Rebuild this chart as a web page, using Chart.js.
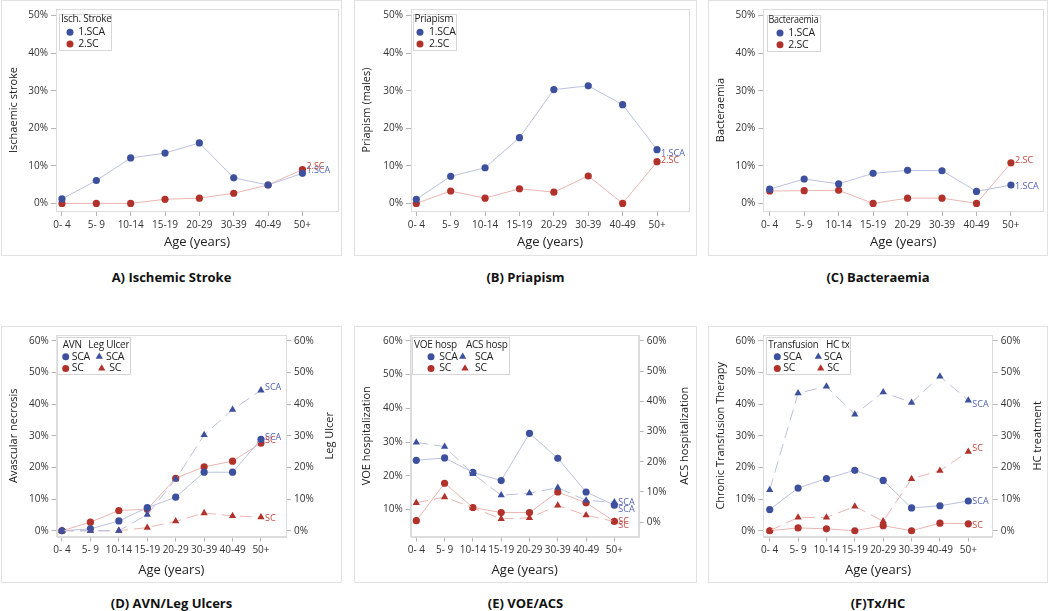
<!DOCTYPE html>
<html><head><meta charset="utf-8">
<script src="https://cdn.jsdelivr.net/npm/chart.js@4/dist/chart.umd.min.js"></script>
<style>
body{margin:0;width:1050px;height:611px;background:#fff;position:relative;overflow:hidden;font-family:'Open Sans',sans-serif}
.box{position:absolute;border:1px solid #e2e2e2;box-sizing:border-box}
canvas{position:absolute}
.ttl{position:absolute;font-weight:bold;font-size:13px;line-height:16px;transform:translateX(-50%);white-space:nowrap;color:#111}
</style></head><body>
<script>
// ---------- data ----------
const ageGroups = ['0- 4','5- 9','10-14','15-19','20-29','30-39','40-49','50+'];
const yTicks50 = [0,10,20,30,40,50];
const yTicks60 = [0,10,20,30,40,50,60];
const yTicksVOE = [10,20,30,40,50,60];

const strokeSCA = [1.2,6.1,12.1,13.4,16.1,6.8,4.9,8.0];
const strokeSC  = [0,0,0,1.1,1.4,2.7,4.9,9.0];
const priapismSCA = [1.1,7.2,9.5,17.5,30.3,31.3,26.3,14.3];
const priapismSC  = [0,3.3,1.4,3.9,3.0,7.3,0,11.1];
const bactSCA = [3.8,6.5,5.2,8.0,8.8,8.7,3.2,4.9];
const bactSC  = [3.3,3.4,3.5,0,1.4,1.4,0,10.8];
const avnSCA = [0,0.6,3.1,7.3,10.6,18.5,18.5,28.9];
const avnSC  = [0,2.7,6.4,6.8,16.6,20.2,22.0,27.7];
const ulcerSCA = [0,0,0,5.1,16.3,30.3,38.3,44.4];
const ulcerSC  = [0,0,0,1.0,3.0,5.6,4.7,4.3];
const voeSCA = [24.6,25.3,21.0,18.6,32.6,25.2,15.2,11.3];
const voeSC  = [6.7,17.8,10.6,9.1,9.1,15.2,12.0,6.5];
const acsSCA = [26.4,25.0,16.0,8.9,9.6,11.4,7.2,6.6];
const acsSC  = [6.4,8.3,4.7,1.1,1.4,5.5,2.3,0.2];
const transSCA = [6.7,13.5,16.5,19.1,15.9,7.2,7.9,9.4];
const transSC  = [0,0.9,0.6,0,1.6,0,2.4,2.2];
const hcSCA = [12.9,43.5,45.6,36.8,43.8,40.5,48.8,41.2];
const hcSC  = [0,4.2,4.2,7.7,3.0,16.4,19.0,25.0];

// ---------- styles ----------
const FONT = "'Open Sans', sans-serif";
const BLUE = '#3c509e', BLUE_LINE = '#bac1df', BLUE_TXT = '#5163b4';
const RED = '#b0322b', RED_LINE = '#ebb5b0', RED_TXT = '#c4473f';

function pts(arr){ return arr.map((v,i)=>({x:i,y:v})); }
function ds(values, color, lineColor, shape, axis, endLabel, endColor, endDy){
  return {
    data: pts(values), yAxisID: axis,
    borderColor: lineColor, borderWidth: 1,
    borderDash: shape === 'triangle' ? [12,6] : [],
    pointStyle: shape, pointRadius: shape === 'triangle' ? 4.2 : 3.6,
    pointBackgroundColor: color, pointBorderColor: color, pointBorderWidth: 0,
    tension: 0, endLabel, endColor, endDy
  };
}

function yScale(pos, min, max, ticks, title, titlePad, width){
  return {
    type:'linear', position:pos, min, max,
    afterBuildTicks: s => { s.ticks = ticks.map(v=>({value:v})); },
    afterFit: s => { s.width = width; },
    ticks:{callback: v => v + '%', font:{family:FONT,size:10}, color:'#333', padding:3},
    grid:{drawOnChartArea:false, tickLength:5, color:'#b4b4b4'},
    border:{color:'#dcdcdc'},
    title:{display: !!title, text:title || '', font:{family:FONT,size:11}, color:'#222', padding:{top:titlePad,bottom:0}}
  };
}

function drawMarker(ctx, shape, color, x, y){
  ctx.fillStyle = color;
  ctx.beginPath();
  if (shape === 'circle'){ ctx.arc(x, y, 3.5, 0, Math.PI*2); }
  else { const r = 4.2; ctx.moveTo(x, y - r); ctx.lineTo(x + r*0.866, y + r*0.5); ctx.lineTo(x - r*0.866, y + r*0.5); ctx.closePath(); }
  ctx.fill();
}

function makePanel(p){
  const box = document.createElement('div');
  box.className = 'box';
  Object.assign(box.style, {left:p.left+'px', top:p.top+'px', width:p.w+'px', height:p.h+'px'});
  document.body.appendChild(box);
  const cv = document.createElement('canvas');
  cv.width = p.w; cv.height = p.h;
  Object.assign(cv.style, {left:p.left+'px', top:p.top+'px', width:p.w+'px', height:p.h+'px'});
  document.body.appendChild(cv);
  const t = document.createElement('div');
  t.className = 'ttl'; t.textContent = p.title;
  t.style.left = (p.left + p.w/2) + 'px'; t.style.top = (p.titleY - 8) + 'px';
  document.body.appendChild(t);

  const a = p.area;
  const scales = {
    x:{
      type:'linear', min:p.xMin, max:p.xMax,
      afterBuildTicks: s => { s.ticks = ageGroups.map((_,i)=>({value:i})); },
      afterFit: s => { s.height = p.h - a.b; },
      ticks:{callback: v => ageGroups[v], font:{family:FONT,size:10}, color:'#333', padding:3, autoSkip:false, maxRotation:0, minRotation:0},
      grid:{drawOnChartArea:false, tickLength:5, color:'#b4b4b4'},
      border:{color:'#dcdcdc'},
      title:{display:true, text:'Age (years)', font:{family:FONT,size:13}, color:'#222', padding:{top:0,bottom:p.xTitlePad}}
    },
    y: yScale('left', p.y.min, p.y.max, p.y.ticks, p.y.title, 6, a.l)
  };
  if (p.y2) scales.y2 = yScale('right', p.y2.min, p.y2.max, p.y2.ticks, null, 0, p.w - a.r);

  const helper = {
    id:'helper'+p.title,
    beforeDatasetsDraw(chart){
      const {ctx, chartArea:c} = chart;
      ctx.save(); ctx.strokeStyle = '#dcdcdc'; ctx.lineWidth = 1;
      ctx.strokeRect(Math.round(c.left)+0.5, Math.round(c.top)+0.5, Math.round(c.right-c.left), Math.round(c.bottom-c.top));
      ctx.restore();
    },
    afterDatasetsDraw(chart){
      const {ctx, chartArea:c} = chart;
      ctx.save();
      // end labels
      ctx.font = '9px ' + FONT; ctx.textBaseline = 'middle'; ctx.textAlign = 'left';
      chart.data.datasets.forEach((d, i) => {
        if (!d.endLabel) return;
        const m = chart.getDatasetMeta(i); const last = m.data[m.data.length-1];
        ctx.fillStyle = d.endColor; ctx.fillText(d.endLabel, last.x + 4, last.y + (d.endDy||0));
      });
      // legend box
      const L = p.legend;
      const x0 = c.left + L.x, y0 = c.top + L.y;
      ctx.fillStyle = '#fff'; ctx.fillRect(x0, y0, L.w, L.h);
      ctx.strokeStyle = '#d6d6d6'; ctx.strokeRect(Math.round(x0)+0.5, Math.round(y0)+0.5, Math.round(L.w), Math.round(L.h));
      ctx.beginPath(); ctx.rect(x0, y0, L.w, L.h); ctx.clip();
      if ('letterSpacing' in ctx) ctx.letterSpacing = '-0.25px';
      L.items.forEach(it => {
        if (it.text){
          ctx.font = (it.size||10) + 'px ' + FONT; ctx.fillStyle = '#222';
          ctx.textBaseline = 'middle'; ctx.textAlign = 'left';
          if (it.maxW) ctx.fillText(it.text, x0 + it.x, y0 + it.y, it.maxW);
          else ctx.fillText(it.text, x0 + it.x, y0 + it.y);
        } else drawMarker(ctx, it.shape, it.color, x0 + it.x, y0 + it.y);
      });
      ctx.restore();
      // right title
      if (p.y2){
        ctx.save(); ctx.font = '11px ' + FONT; ctx.fillStyle = '#222';
        ctx.textAlign = 'center'; ctx.textBaseline = 'middle';
        ctx.translate(p.y2.titleX, (c.top + c.bottom)/2); ctx.rotate(-Math.PI/2);
        ctx.fillText(p.y2.title, 0, 0); ctx.restore();
      }
    }
  };

  new Chart(cv, {
    type:'line',
    data:{datasets:p.datasets},
    options:{
      responsive:false, animation:false, devicePixelRatio:1,
      layout:{padding:{left:0, top:a.t, right: p.y2 ? 0 : p.w - a.r, bottom:0}},
      plugins:{legend:{display:false}, tooltip:{enabled:false}},
      scales
    },
    plugins:[helper]
  });
}

function simpleLegend(title, x, y, w, mx, tx, maxW){
  return {x, y, w, h:35.5, items:[
    {text:title, x:1.7, y:5.5, maxW},
    {shape:'circle', color:BLUE, x:mx, y:18.3}, {text:'1.SCA', x:tx, y:18.3, size:10.5},
    {shape:'circle', color:RED, x:mx, y:30}, {text:'2.SC', x:tx, y:30, size:10.5}
  ]};
}
function doubleLegend(t1, t2, x, w, c, maxW){
  return {x, y:1.7, w, h:36.7, items:[
    {text:t1, x:c[0], y:8.5, maxW}, {text:t2, x:c[1], y:8.5},
    {shape:'circle', color:BLUE, x:c[2], y:20}, {text:'SCA', x:c[3], y:20, size:10.5},
    {shape:'triangle', color:BLUE, x:c[4], y:20}, {text:'SCA', x:c[5], y:20, size:10.5},
    {shape:'circle', color:RED, x:c[2], y:31.7}, {text:'SC', x:c[3], y:31.7, size:10.5},
    {shape:'triangle', color:RED, x:c[6], y:31.7}, {text:'SC', x:c[7], y:31.7, size:10.5}
  ]};
}

const TOP = {top:0, h:256, titleY:276.7, xTitlePad:5.5};
const BOT = {top:326, h:257, titleY:603.3, xTitlePad:5.2};

makePanel(Object.assign({}, TOP, {
  left:1, w:341, area:{l:55, r:338, t:6, b:211}, xMin:-0.174, xMax:8.036,
  y:{min:-2.02, max:51.76, ticks:yTicks50, title:'Ischaemic stroke'},
  title:'A) Ischemic Stroke',
  legend: simpleLegend('Isch. Stroke', 3.3, 5, 52.4, 10.7, 19),
  datasets:[
    ds(strokeSCA, BLUE, BLUE_LINE, 'circle', 'y', '1.SCA', BLUE_TXT, -2.6),
    ds(strokeSC, RED, RED_LINE, 'circle', 'y', '2.SC', RED_TXT, -3.6)
  ]
}));
makePanel(Object.assign({}, TOP, {
  left:354, w:343, area:{l:57, r:335, t:6, b:211}, xMin:-0.154, xMax:7.93,
  y:{min:-2.02, max:51.76, ticks:yTicks50, title:'Priapism (males)'},
  title:'(B) Priapism',
  legend: simpleLegend('Priapism', 1.7, 5, 43.3, 7.3, 16.3),
  datasets:[
    ds(priapismSCA, BLUE, BLUE_LINE, 'circle', 'y', '1.SCA', BLUE_TXT, 4),
    ds(priapismSC, RED, RED_LINE, 'circle', 'y', '2.SC', RED_TXT, -1.7)
  ]
}));
makePanel(Object.assign({}, TOP, {
  left:708, w:340, area:{l:55.3, r:335, t:6, b:211}, xMin:-0.186, xMax:7.93,
  y:{min:-2.02, max:51.76, ticks:yTicks50, title:'Bacteraemia'},
  title:'(C) Bacteraemia',
  legend: simpleLegend('Bacteraemia', 3.4, 5.7, 53.3, 13.3, 21.6, 50),
  datasets:[
    ds(bactSCA, BLUE, BLUE_LINE, 'circle', 'y', '1.SCA', BLUE_TXT, 1.7),
    ds(bactSC, RED, RED_LINE, 'circle', 'y', '2.SC', RED_TXT, -2.4)
  ]
}));
makePanel(Object.assign({}, BOT, {
  left:1, w:341, area:{l:55.7, r:285, t:7.3, b:210.5}, xMin:-0.186, xMax:7.88,
  y:{min:-1.82, max:61.88, ticks:yTicks60, title:'Avascular necrosis'},
  y2:{min:-1.82, max:61.88, ticks:yTicks60, title:'Leg Ulcer', titleX:329},
  title:'(D) AVN/Leg Ulcers',
  legend: doubleLegend('AVN', 'Leg Ulcer', 0, 72.6, [6, 31.6, 9, 15, 42.6, 49.3, 45, 52.6]),
  datasets:[
    ds(ulcerSCA, BLUE, BLUE_LINE, 'triangle', 'y2', 'SCA', BLUE_TXT, -3),
    ds(ulcerSC, RED, RED_LINE, 'triangle', 'y2', 'SC', RED_TXT, 1.3),
    ds(avnSCA, BLUE, BLUE_LINE, 'circle', 'y', 'SCA', BLUE_TXT, -2.3),
    ds(avnSC, RED, RED_LINE, 'circle', 'y', 'SC', RED_TXT, -2.3)
  ]
}));
makePanel(Object.assign({}, BOT, {
  left:354, w:343, area:{l:56.7, r:284.7, t:7.3, b:210.5}, xMin:-0.198, xMax:7.86,
  y:{min:2.0, max:61.76, ticks:yTicksVOE, title:'VOE hospitalization'},
  y2:{min:-4.76, max:61.97, ticks:yTicks60, title:'ACS hospitalization', titleX:331},
  title:'(E) VOE/ACS',
  legend: doubleLegend('VOE hosp', 'ACS hosp', 1, 96.6, [2.3, 54.3, 19.3, 27.6, 51, 63.3, 53.3, 63.3]),
  datasets:[
    ds(acsSCA, BLUE, BLUE_LINE, 'triangle', 'y2', 'SCA', BLUE_TXT, 0.7),
    ds(acsSC, RED, RED_LINE, 'triangle', 'y2', 'SC', RED_TXT, 4),
    ds(voeSCA, BLUE, BLUE_LINE, 'circle', 'y', 'SCA', BLUE_TXT, 4.3),
    ds(voeSC, RED, RED_LINE, 'circle', 'y', 'SC', RED_TXT, 0)
  ]
}));
makePanel(Object.assign({}, BOT, {
  left:708, w:340, area:{l:55.3, r:284.7, t:7.3, b:210.5}, xMin:-0.226, xMax:7.86,
  y:{min:-1.82, max:61.88, ticks:yTicks60, title:'Chronic Transfusion Therapy'},
  y2:{min:-1.82, max:61.88, ticks:yTicks60, title:'HC treatment', titleX:330},
  title:'(F)Tx/HC',
  legend: doubleLegend('Transfusion', 'HC tx', 2.4, 83.6, [2.6, 60.3, 11.6, 17.6, 52.6, 58.3, 55, 61.6], 50),
  datasets:[
    ds(hcSCA, BLUE, BLUE_LINE, 'triangle', 'y2', 'SCA', BLUE_TXT, 4),
    ds(hcSC, RED, RED_LINE, 'triangle', 'y2', 'SC', RED_TXT, -3.7),
    ds(transSCA, BLUE, BLUE_LINE, 'circle', 'y', 'SCA', BLUE_TXT, 0.3),
    ds(transSC, RED, RED_LINE, 'circle', 'y', 'SC', RED_TXT, 1.6)
  ]
}));
</script>
</body></html>
